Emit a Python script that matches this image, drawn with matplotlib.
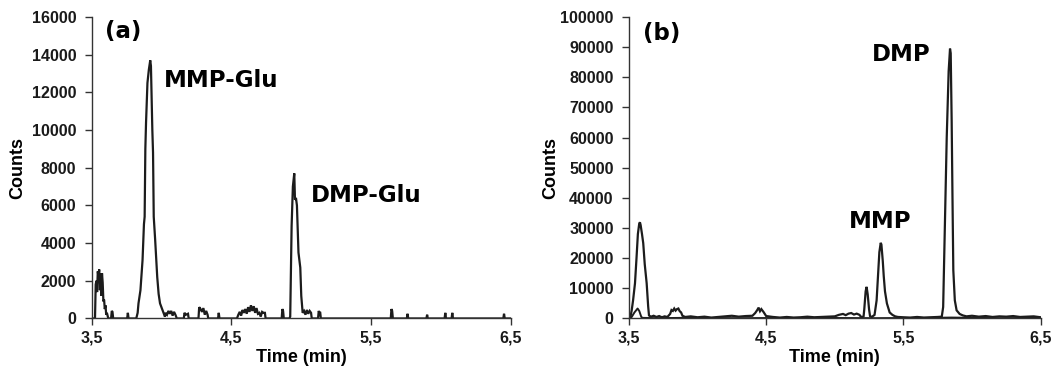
import matplotlib
matplotlib.use("Agg")
import matplotlib.pyplot as plt

# panel (a): glucuronide channel
a_time = [3.50, 3.525, 3.53, 3.535, 3.54, 3.545, 3.55, 3.555, 3.56, 3.565, 3.57, 3.575, 3.58, 3.585, 3.59, 3.595, 3.60, 3.605, 3.61, 3.62,
          3.64, 3.645, 3.65, 3.655, 3.755, 3.76, 3.765,
          3.82, 3.83, 3.836, 3.85, 3.865, 3.875, 3.88, 3.885, 3.89, 3.90, 3.91, 3.92, 3.925, 3.935, 3.94, 3.945, 3.955, 3.96, 3.97, 3.98, 3.99, 4.005, 4.015, 4.025,
          4.03, 4.04, 4.05, 4.06, 4.07, 4.08, 4.09, 4.10, 4.11,
          4.16, 4.165, 4.175, 4.19, 4.195,
          4.265, 4.27, 4.28, 4.29, 4.30, 4.31, 4.32, 4.33, 4.335,
          4.405, 4.41, 4.415,
          4.54, 4.55, 4.56, 4.57, 4.58, 4.59, 4.60, 4.61, 4.62, 4.63, 4.64, 4.65, 4.66, 4.67, 4.68, 4.69, 4.70, 4.71, 4.72, 4.73, 4.74, 4.745,
          4.86, 4.865, 4.87, 4.875,
          4.915, 4.921, 4.931, 4.94, 4.95, 4.955, 4.962, 4.969, 4.98, 4.993, 5.00, 5.01, 5.02, 5.03, 5.04, 5.05, 5.06, 5.07, 5.075,
          5.12, 5.125, 5.13, 5.135, 5.14,
          5.64, 5.645, 5.65, 5.655, 5.755, 5.76, 5.765, 5.895, 5.90, 5.905,
          6.025, 6.03, 6.035, 6.075, 6.08, 6.085, 6.445, 6.45, 6.455, 6.50]
a_counts = [0, 0, 1800, 2000, 1400, 2500, 2200, 2600, 1500, 2400, 1200, 2400, 1900, 900, 1000, 500, 700, 200, 300, 0,
            0, 400, 350, 0, 0, 300, 0,
            0, 300, 800, 1500, 3100, 5000, 5400, 9000, 10400, 12500, 13200, 13700, 13400, 10000, 8800, 5400, 4200, 3500, 2200, 1300, 800, 500, 300, 100,
            300, 200, 400, 250, 400, 150, 350, 200, 0,
            0, 300, 200, 250, 0,
            0, 600, 500, 350, 550, 200, 400, 200, 0,
            0, 300, 0,
            0, 200, 350, 150, 450, 300, 500, 250, 600, 350, 700, 400, 650, 300, 550, 250, 300, 100, 350, 300, 300, 0,
            0, 500, 400, 0,
            0, 100, 4900, 7000, 7700, 6300, 6400, 6000, 3500, 2700, 1200, 300, 400, 200, 450, 250, 400, 300, 0,
            0, 400, 300, 350, 0,
            0, 500, 400, 0, 0, 250, 0, 0, 200, 0,
            0, 300, 0, 0, 300, 0, 0, 250, 0, 0]

# panel (b): aglycone channel (main trace) and second trace
b_time = [3.50, 3.51, 3.52, 3.53, 3.544, 3.555, 3.565, 3.575, 3.58, 3.585, 3.595, 3.604, 3.615, 3.629, 3.64, 3.646,
          3.66, 3.68, 3.70, 3.72, 3.74, 3.76, 3.78, 3.80, 3.81, 3.82, 3.83, 3.84, 3.85, 3.86, 3.87, 3.88, 3.89, 3.91,
          3.95, 4.00, 4.05, 4.10, 4.15, 4.20, 4.25, 4.30, 4.35, 4.40,
          4.42, 4.435, 4.445, 4.455, 4.465, 4.48, 4.49, 4.50,
          4.55, 4.60, 4.65, 4.70, 4.75, 4.80, 4.85, 4.90, 4.95, 5.00,
          5.03, 5.06, 5.08, 5.10, 5.12, 5.14, 5.16, 5.18, 5.19, 5.20, 5.21,
          5.215, 5.225, 5.232, 5.24, 5.25, 5.257, 5.27,
          5.29, 5.305, 5.315, 5.325, 5.335, 5.34, 5.35, 5.357, 5.366, 5.38, 5.40, 5.42, 5.44, 5.46,
          5.50, 5.55, 5.60, 5.65, 5.70, 5.75, 5.78,
          5.79, 5.803, 5.816, 5.83, 5.84, 5.845, 5.852, 5.858, 5.864, 5.875, 5.888, 5.91, 5.934,
          5.96, 6.00, 6.05, 6.10, 6.15, 6.20, 6.25, 6.30, 6.35, 6.40, 6.45, 6.50]
b_counts = [0, 300, 2700, 6000, 11700, 20000, 28000, 31500, 31900, 31000, 28000, 25000, 18000, 11700, 4000, 1000,
            600, 900, 500, 800, 400, 700, 500, 1500, 2800, 2500, 3300, 2600, 3100, 3300, 2400, 2000, 900, 500,
            700, 400, 600, 300, 500, 700, 900, 600, 800, 900,
            1800, 2800, 3600, 2400, 3100, 2200, 1500, 800,
            500, 300, 500, 300, 400, 600, 400, 500, 600, 700,
            1200, 1500, 1100, 1600, 1800, 1300, 1600, 1200, 600, 500, 700,
            3000, 9000, 10500, 8000, 3000, 800, 500,
            1200, 6000, 14000, 22000, 25100, 24500, 19000, 14000, 9000, 5000, 2000, 1200, 700, 500,
            400, 300, 500, 300, 400, 500, 600,
            3800, 31900, 60000, 82000, 89500, 88000, 65500, 40000, 16000, 6000, 2700, 1500, 1000,
            700, 900, 600, 800, 500, 700, 600, 800, 500, 600, 700, 400]

b2_time = [3.50, 3.52, 3.54, 3.563, 3.575, 3.59, 3.60, 3.70, 3.90, 4.30, 4.80, 5.30, 5.70, 5.85, 6.20, 6.50]
b2_counts = [0, 500, 2000, 3300, 2500, 500, 200, 100, 200, 100, 200, 100, 200, 300, 100, 200]

x_ticks = [3.5, 4.5, 5.5, 6.5]
x_tick_labels = ["3,5", "4,5", "5,5", "6,5"]
a_yticks = list(range(0, 16001, 2000))
b_yticks = list(range(0, 100001, 10000))

line_col = "#1c1c1c"
tick_font = {"family": "Liberation Sans", "weight": "bold", "size": 11.5}
label_font = {"family": "Liberation Sans", "weight": "bold", "size": 13}
note_font = {"family": "DejaVu Sans", "weight": "bold", "size": 16.5}

fig = plt.figure(figsize=(10.53, 3.73), dpi=100)
ax_a = fig.add_axes([0.0869, 0.1462, 0.3984, 0.8083])
ax_b = fig.add_axes([0.5973, 0.1462, 0.3909, 0.8083])


def style_axis(ax, yticks, ymax):
    ax.set_xlim(3.5, 6.5)
    ax.set_ylim(0, ymax)
    for side in ["top", "right"]:
        ax.spines[side].set_visible(False)
    for side in ["left", "bottom"]:
        ax.spines[side].set_linewidth(1.0)
        ax.spines[side].set_color("#333333")
    ax.set_xticks(x_ticks)
    ax.set_xticklabels(x_tick_labels, fontdict=tick_font)
    ax.set_yticks(yticks)
    ax.set_yticklabels([str(v) for v in yticks], fontdict=tick_font)
    ax.tick_params(direction="out", length=5, width=1, color="#333333", labelcolor="#1a1a1a", pad=4)
    ax.tick_params(axis="y", pad=6)
    ax.set_xlabel("Time (min)", fontdict=label_font, labelpad=2)
    ax.set_ylabel("Counts", fontdict=label_font)


ax_a.plot(a_time, a_counts, color=line_col, lw=1.6, solid_joinstyle="miter")
style_axis(ax_a, a_yticks, 16000)
ax_a.yaxis.set_label_coords(-0.155, 0.5)
ax_a.text(3.6, 15250, "(a)", va="center", ha="left", **note_font)
ax_a.text(4.02, 12650, "MMP-Glu", va="center", ha="left", **note_font)
ax_a.text(5.07, 6550, "DMP-Glu", va="center", ha="left", **note_font)

ax_b.plot(b2_time, b2_counts, color=line_col, lw=1.4)
ax_b.plot(b_time, b_counts, color=line_col, lw=1.6, solid_joinstyle="miter")
style_axis(ax_b, b_yticks, 100000)
ax_b.yaxis.set_label_coords(-0.17, 0.5)
ax_b.text(3.6, 94500, "(b)", va="center", ha="left", **note_font)
ax_b.text(5.27, 87500, "DMP", va="center", ha="left", **note_font)
ax_b.text(5.1, 32000, "MMP", va="center", ha="left", **note_font)

fig.savefig("out.png", dpi=100)
